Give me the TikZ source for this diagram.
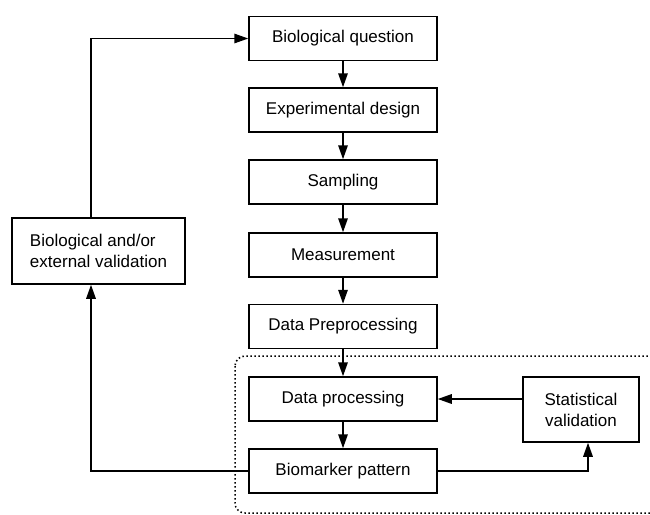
\documentclass[tikz,border=0pt]{standalone}
\usepackage{fontspec}
\setmainfont{Liberation Sans}
\usetikzlibrary{arrows.meta,positioning}
\begin{document}
\begin{tikzpicture}[x=1pt,y=-1pt,
  box/.style={draw,line width=1.5pt,minimum width=188pt,minimum height=44pt,inner sep=0pt,align=center,font=\fontsize{17}{21}\selectfont},
  conn/.style={line width=1.5pt,-{Triangle[length=14pt,width=9.5pt]}},
  grp/.style={line width=1.5pt,dash pattern=on 1.5pt off 2.5pt,rounded corners=10pt}]
\useasboundingbox (0,0) rectangle (650,514);
\node[box] (bq)  at (343,38.5) {Biological question};
\node[box] (ed)  at (343,110) {Experimental design};
\node[box] (sa)  at (343,182) {Sampling};
\node[box] (me)  at (343,255) {Measurement};
\node[box] (dpp) at (343,326.5) {Data Preprocessing};
\node[box] (dp)  at (343,399) {Data processing};
\node[box] (bp)  at (343,471) {Biomarker pattern};
\node[box,minimum width=116pt,minimum height=65pt] (sv) at (581,409.5) {Statistical\\validation};
\node[box,minimum width=173pt,minimum height=66pt,align=left] (bev) at (98.5,251) {Biological and/or\\external validation};
\draw[grp] (235,356) rectangle (670,513);
\draw[conn] (bq) -- (ed);
\draw[conn] (ed) -- (sa);
\draw[conn] (sa) -- (me);
\draw[conn] (me) -- (dpp);
\draw[conn] (dpp) -- (dp);
\draw[conn] (dp) -- (bp);
\draw[conn] (dp.east -| sv.west) -- (dp.east);
\draw[conn] (bp.east) -| ([xshift=7pt]sv.south);
\draw[conn] (bp.west) -| ([xshift=-7.5pt]bev.south);
\draw[conn] ([xshift=-7.5pt]bev.north) |- (bq.west);
\end{tikzpicture}
\end{document}
